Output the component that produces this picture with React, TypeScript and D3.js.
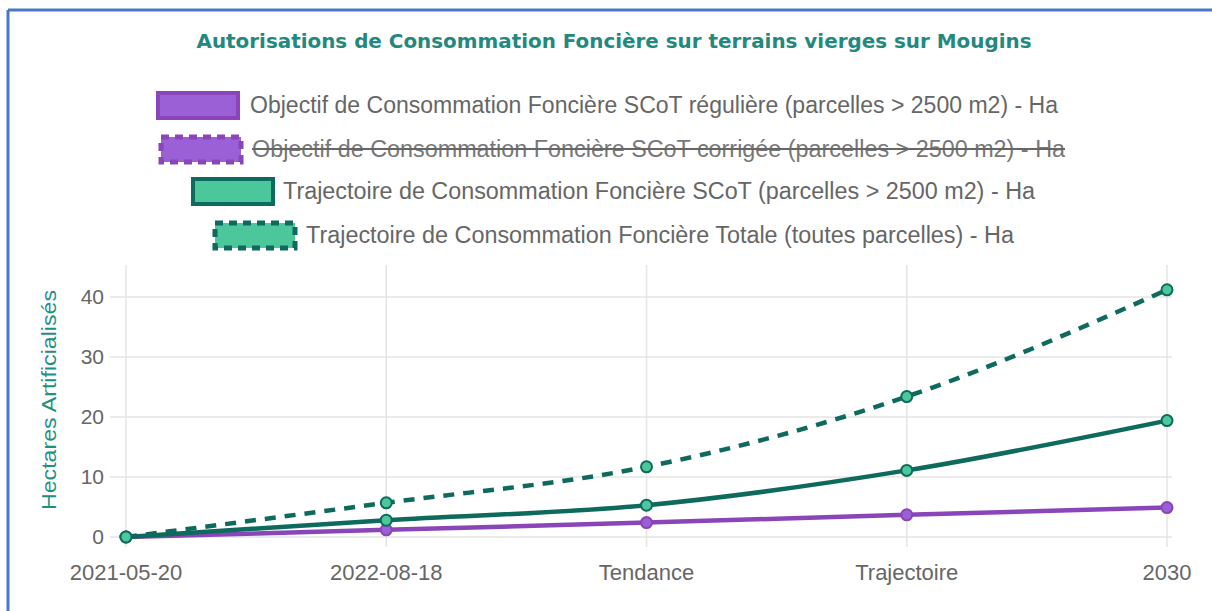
import React from "react";
import * as d3 from "d3";

const categories = ["2021-05-20", "2022-08-18", "Tendance", "Trajectoire", "2030"];
const objectifReguliere = [0, 1.2, 2.4, 3.7, 4.9];
const trajectoireScot = [0, 2.8, 5.3, 11.1, 19.4];
const trajectoireTotale = [0, 5.7, 11.7, 23.4, 41.2];
const yTicks = [0, 10, 20, 30, 40];

const legendItems = [
  { label: "Objectif de Consommation Foncière SCoT régulière (parcelles > 2500 m2) - Ha", fill: "#9b5fd6", stroke: "#8a45b8", dashed: false, hidden: false, x: 158, y: 93, tx: 250, tl: 808 },
  { label: "Objectif de Consommation Foncière SCoT corrigée (parcelles > 2500 m2) - Ha", fill: "#9b5fd6", stroke: "#8a45b8", dashed: true, hidden: true, x: 161, y: 137, tx: 252, tl: 813 },
  { label: "Trajectoire de Consommation Foncière SCoT (parcelles > 2500 m2) - Ha", fill: "#4cc79c", stroke: "#0e6a5c", dashed: false, hidden: false, x: 193, y: 179, tx: 283, tl: 752 },
  { label: "Trajectoire de Consommation Foncière Totale (toutes parcelles) - Ha", fill: "#4cc79c", stroke: "#0e6a5c", dashed: true, hidden: false, x: 215, y: 223, tx: 306, tl: 708 },
];

const App = () => {
  const x = d3.scalePoint<string>().domain(categories).range([126, 1167]);
  const y = d3.scaleLinear().domain([0, 45]).range([537, 267]);

  const line = d3
    .line<number>()
    .x((_, i) => x(categories[i]) as number)
    .y((d) => y(d))
    .curve(d3.curveMonotoneX);

  const series = [
    { data: objectifReguliere, stroke: "#8a45b8", fill: "#9b5fd6", dash: null },
    { data: trajectoireScot, stroke: "#0e6a5c", fill: "#4cc79c", dash: null },
    { data: trajectoireTotale, stroke: "#0e6a5c", fill: "#4cc79c", dash: "11 9" },
  ];

  return (
    <svg width={1212} height={611} style={{ position: "absolute", left: 0, top: 0, background: "#fff" }}>
      <rect x={0} y={0} width={1212} height={611} fill="#fff" />
      {/* cadre */}
      <line x1={8} y1={10} x2={1212} y2={10} stroke="#4a78c8" strokeWidth={3} />
      <line x1={8} y1={10} x2={8} y2={611} stroke="#4a78c8" strokeWidth={3} />

      <text x={614} y={48} textAnchor="middle" fontFamily="DejaVu Sans" fontWeight="bold" fontSize={20}
        fill="#23887e" textLength={835} lengthAdjust="spacingAndGlyphs">
        Autorisations de Consommation Foncière sur terrains vierges sur Mougins
      </text>

      {legendItems.map((it, i) => (
        <g key={i}>
          <rect x={it.x} y={it.y} width={80} height={25} fill={it.fill} stroke={it.stroke} strokeWidth={it.dashed ? 5 : 4}
            strokeDasharray={it.dashed ? "8 6" : undefined} />
          <text x={it.tx} y={it.y + 20} fontFamily="Liberation Sans" fontSize={23} fill={it.hidden ? "#777" : "#666"}
            textLength={it.tl} lengthAdjust="spacingAndGlyphs">
            {it.label}
          </text>
          {it.hidden && (
            <line x1={it.tx} x2={it.tx + it.tl} y1={it.y + 12} y2={it.y + 12} stroke="#666" strokeWidth={2} />
          )}
        </g>
      ))}

      {/* grille */}
      {yTicks.map((t) => (
        <g key={t}>
          <line x1={110} x2={1172} y1={y(t)} y2={y(t)} stroke="#e4e4e4" strokeWidth={1.5} />
          <text x={104} y={y(t) + 7} textAnchor="end" fontFamily="Liberation Sans" fontSize={21} fill="#666">{t}</text>
        </g>
      ))}
      {categories.map((c) => (
        <g key={c}>
          <line x1={x(c)} x2={x(c)} y1={265} y2={547} stroke="#e4e4e4" strokeWidth={1.5} />
          <text x={x(c)} y={580} textAnchor="middle" fontFamily="Liberation Sans" fontSize={22} fill="#666">{c}</text>
        </g>
      ))}

      <text transform="translate(56,400) rotate(-90)" textAnchor="middle" fontFamily="Liberation Sans" fontSize={21}
        fill="#1f8f80" textLength={220} lengthAdjust="spacingAndGlyphs">
        Hectares Artificialisés
      </text>

      {series.map((s, i) => (
        <g key={i}>
          <path d={line(s.data) || ""} fill="none" stroke={s.stroke} strokeWidth={4.5}
            strokeDasharray={s.dash || undefined} />
          {s.data.map((d, j) => (
            <circle key={j} cx={x(categories[j])} cy={y(d)} r={5.5} fill={s.fill} stroke={s.stroke} strokeWidth={2} />
          ))}
        </g>
      ))}
    </svg>
  );
};

export default App;
